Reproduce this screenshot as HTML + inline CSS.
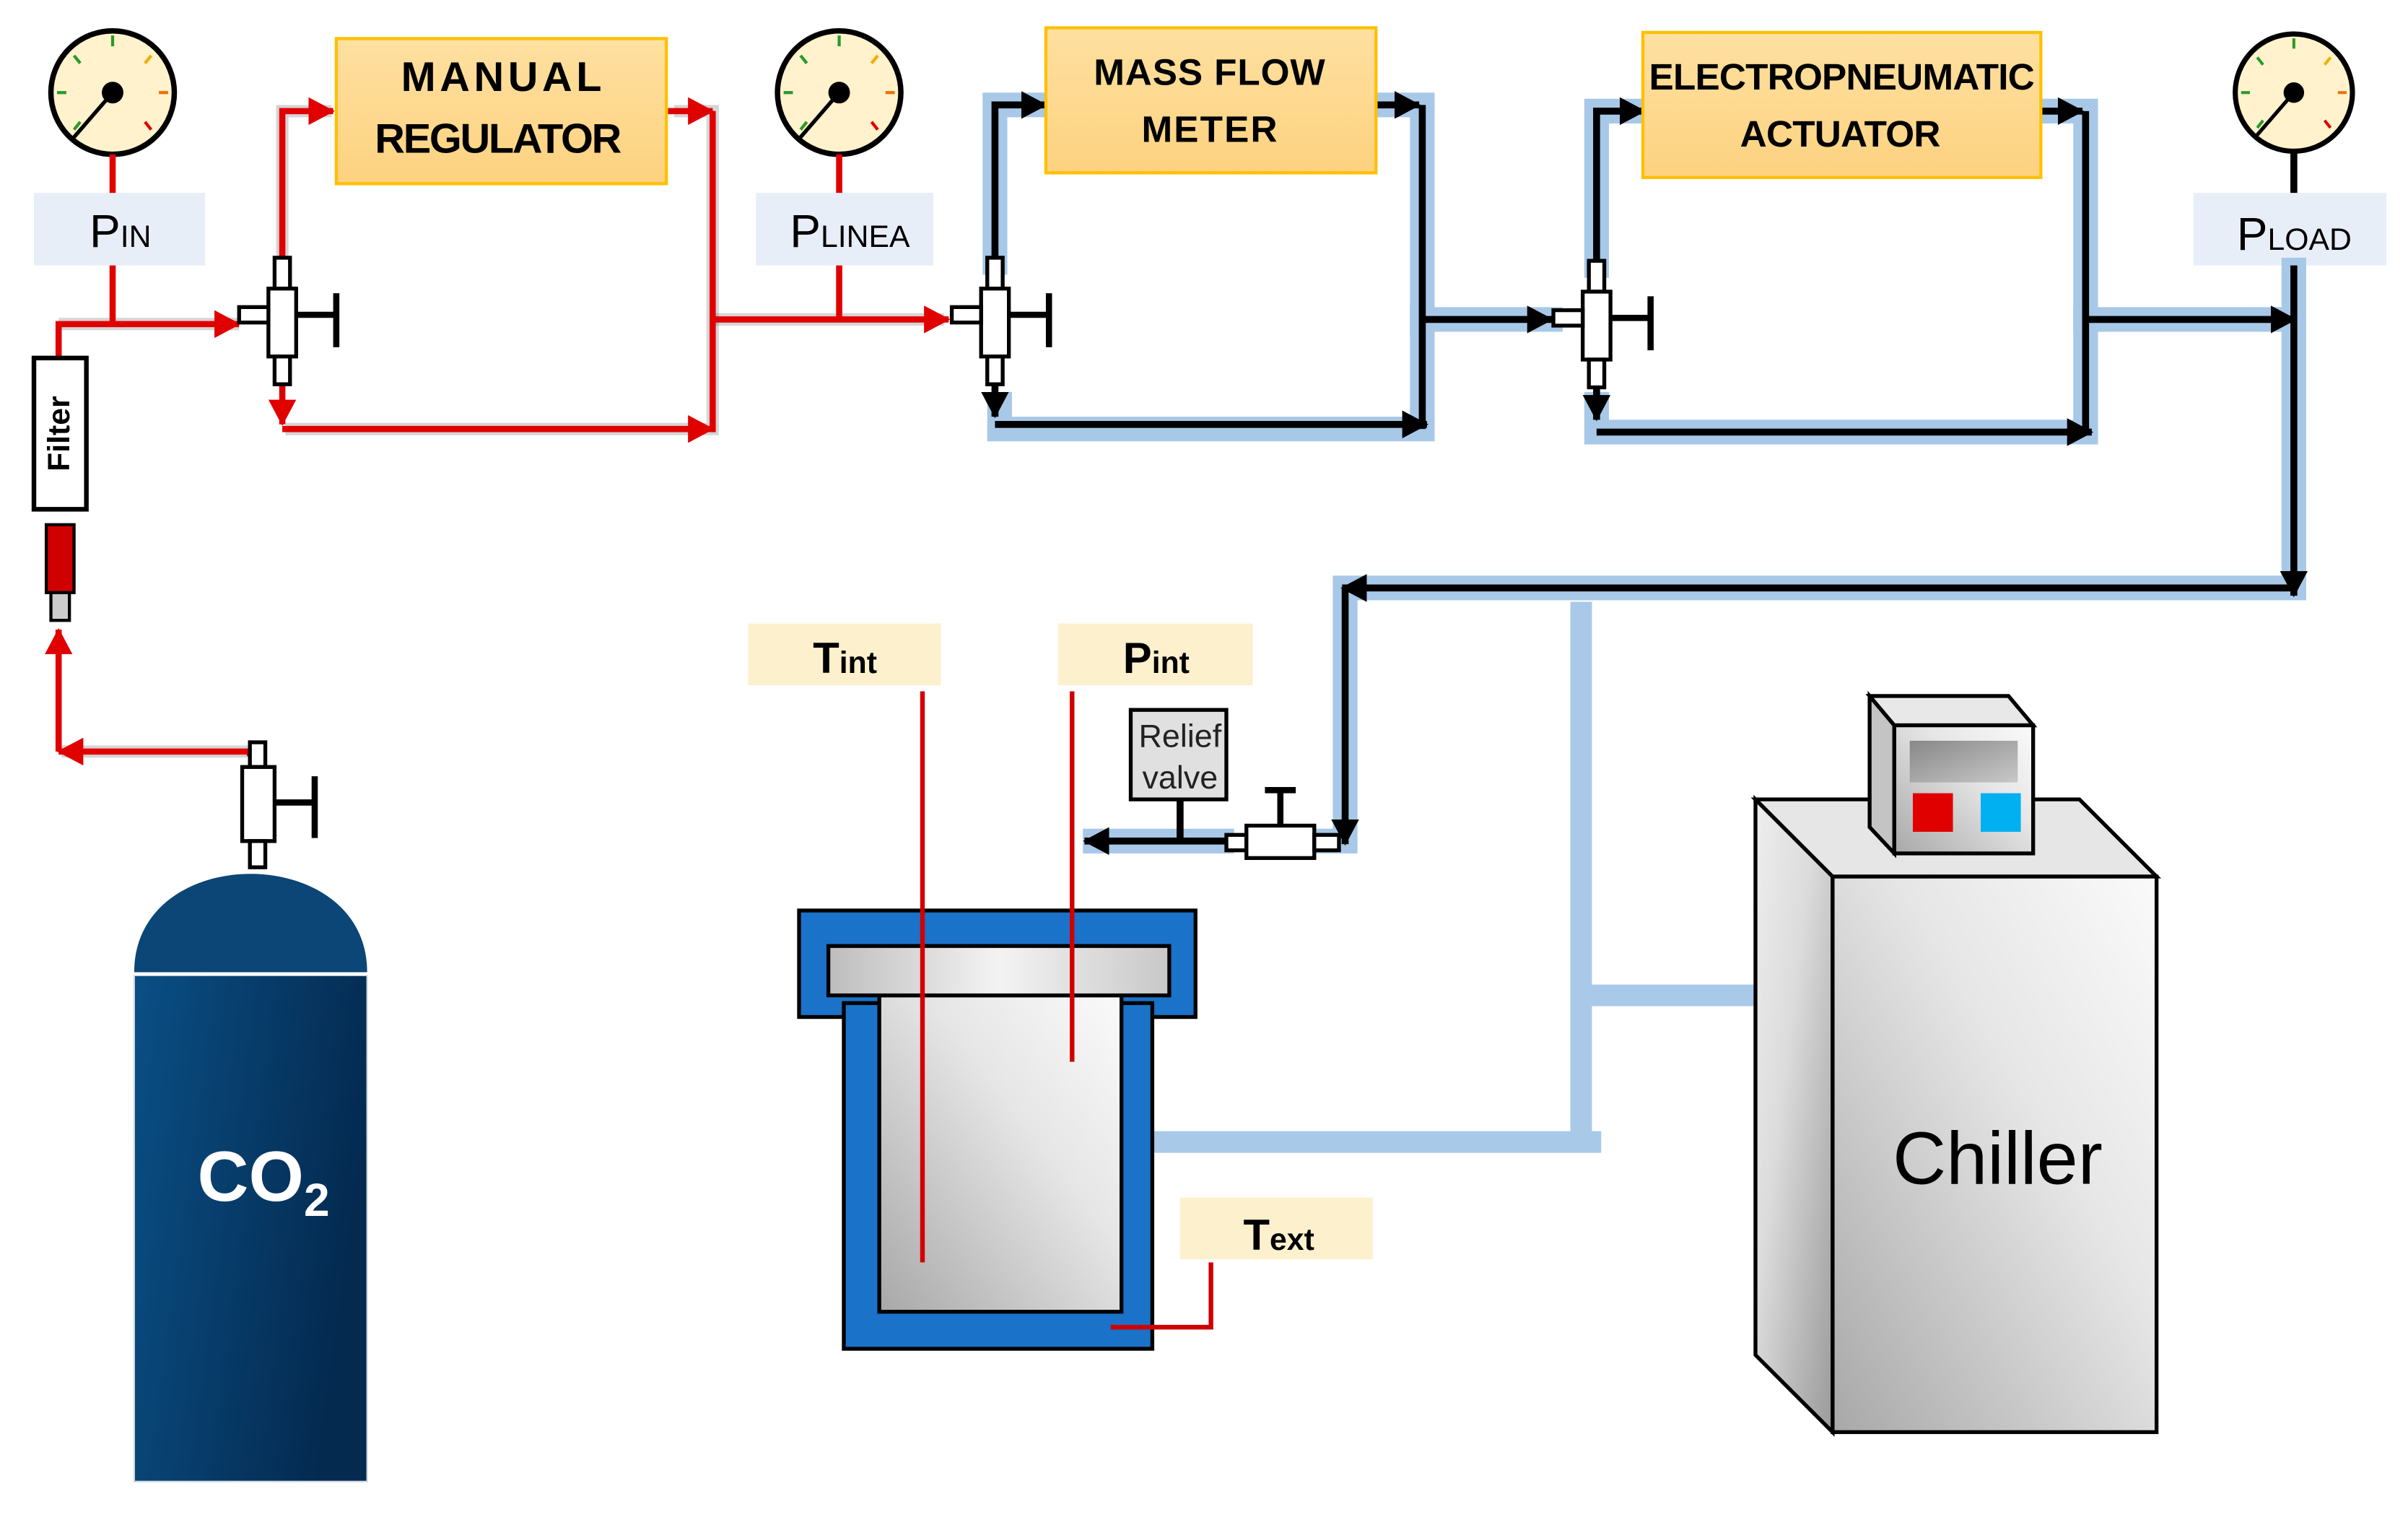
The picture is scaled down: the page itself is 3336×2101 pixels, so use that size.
<!DOCTYPE html>
<html><head><meta charset="utf-8"><style>html,body{margin:0;padding:0;background:#fff}svg{display:block}</style></head>
<body>
<svg width="3336" height="2101" viewBox="0 0 1561 983" preserveAspectRatio="none" xmlns="http://www.w3.org/2000/svg" font-family="Liberation Sans, sans-serif">
<defs>
<marker id="ar" markerUnits="userSpaceOnUse" markerWidth="20" markerHeight="20" refX="16" refY="9" orient="auto"><path d="M0,0 L17,9 L0,18 Z" fill="#e00000"/></marker>
<marker id="ab" markerUnits="userSpaceOnUse" markerWidth="20" markerHeight="20" refX="16" refY="9" orient="auto"><path d="M0,0 L17,9 L0,18 Z" fill="#000"/></marker>
<linearGradient id="box" x1="0" y1="0" x2="0" y2="1"><stop offset="0" stop-color="#fee0a0"/><stop offset="1" stop-color="#fdd280"/></linearGradient>
<linearGradient id="cyl" x1="0" y1="0" x2="1" y2="0.3"><stop offset="0" stop-color="#0a4f85"/><stop offset="1" stop-color="#042a50"/></linearGradient>
<linearGradient id="gry" x1="0" y1="1" x2="1" y2="0"><stop offset="0" stop-color="#a8a8a8"/><stop offset="0.6" stop-color="#e6e6e6"/><stop offset="1" stop-color="#fafafa"/></linearGradient>
<linearGradient id="gry2" x1="1" y1="1" x2="0" y2="0"><stop offset="0" stop-color="#9a9a9a"/><stop offset="0.6" stop-color="#dcdcdc"/><stop offset="1" stop-color="#eeeeee"/></linearGradient>
<linearGradient id="lid" x1="0" y1="0" x2="1" y2="0"><stop offset="0" stop-color="#bdbdbd"/><stop offset="0.5" stop-color="#f3f3f3"/><stop offset="1" stop-color="#c8c8c8"/></linearGradient>
<linearGradient id="disp" x1="0" y1="0" x2="1" y2="1"><stop offset="0" stop-color="#888"/><stop offset="1" stop-color="#c8c8c8"/></linearGradient>
<g id="gauge">
<circle r="40" fill="#fff2cc" stroke="#000" stroke-width="3.5"/>
<line x1="0" y1="-37" x2="0" y2="-30" stroke="#2a9a2a" stroke-width="2"/>
<line x1="-25" y1="-24" x2="-21" y2="-19" stroke="#2a9a2a" stroke-width="2"/>
<line x1="-36" y1="0" x2="-30" y2="0" stroke="#2a9a2a" stroke-width="2"/>
<line x1="-25" y1="24" x2="-21" y2="19" stroke="#2a9a2a" stroke-width="2"/>
<line x1="25" y1="-24" x2="21" y2="-19" stroke="#f0b000" stroke-width="2"/>
<line x1="36" y1="0" x2="30" y2="0" stroke="#f07000" stroke-width="2"/>
<line x1="25" y1="24" x2="21" y2="19" stroke="#e00000" stroke-width="2"/>
<line x1="0" y1="0" x2="-26" y2="30" stroke="#000" stroke-width="2.5"/>
<circle r="7" fill="#000"/>
</g>
<g id="valve" fill="#fff" stroke="#000" stroke-width="2.5">
<rect x="-5" y="-38" width="10" height="20"/>
<rect x="-9" y="-18" width="18" height="44"/>
<rect x="-5" y="26" width="10" height="18"/>
<rect x="-28" y="-6" width="19" height="10"/>
<line x1="9" y1="-1" x2="35" y2="-1" stroke-width="4"/>
<line x1="35" y1="-15" x2="35" y2="20" stroke-width="4"/>
</g>
</defs>

<!-- gauges -->
<use href="#gauge" x="73" y="60"/>
<use href="#gauge" x="544" y="60"/>
<use href="#gauge" transform="translate(1487 60) scale(0.95)"/>

<!-- label boxes -->
<rect x="22" y="125" width="111" height="47" fill="#e8eef8"/>
<text x="58" y="160" font-size="30" fill="#000">P<tspan font-size="20">IN</tspan></text>
<rect x="490" y="125" width="115" height="47" fill="#e8eef8"/>
<text x="512" y="160" font-size="30">P<tspan font-size="20">LINEA</tspan></text>
<rect x="1422" y="125" width="125" height="47" fill="#e8eef8"/>
<text x="1450" y="162" font-size="30">P<tspan font-size="20">LOAD</tspan></text>

<!-- blue glow bands for black lines -->
<g stroke="#a8c8e8" stroke-width="16" fill="none" stroke-linecap="square">
<path d="M645,170 V68 H676"/>
<path d="M897,68 H922 V278 H648 V262"/>
<path d="M922,207 H1005"/>
<path d="M1035,172 V72 H1063"/>
<path d="M1328,72 H1352 V280 H1035 V262"/>
<path d="M1352,207 H1480"/>
<path d="M1487,175 V381 H872 V545 H860"/>
<path d="M710,545 H792"/>
</g>
<!-- light blue coolant pipes -->
<g stroke="#a9c9e9" stroke-width="14" fill="none">
<path d="M1025,390 V740"/>
<path d="M745,740 H1038"/>
<path d="M1032,645 H1138"/>
</g>

<!-- red shadows -->
<g stroke="#888" stroke-opacity="0.35" stroke-width="8" fill="none">
<path d="M38,210 H155"/><path d="M183,170 V72 H215"/><path d="M437,72 H462 V278 H185"/><path d="M462,207 H612"/>
<path d="M40,487 H162"/>
</g>
<!-- red lines -->
<g stroke="#e00000" stroke-width="4" fill="none">
<path d="M73,100 V125"/><path d="M73,172 V210"/>
<path d="M38,232 V210 H155" marker-end="url(#ar)"/>
<path d="M183,168 V72 H216" marker-end="url(#ar)"/>
<path d="M433,72 H462" marker-end="url(#ar)"/>
<path d="M462,72 V280"/>
<path d="M183,249 V275" marker-end="url(#ar)"/>
<path d="M183,278 H462" marker-end="url(#ar)"/>
<path d="M462,207 H615" marker-end="url(#ar)"/>
<path d="M544,100 V125"/><path d="M544,172 V207"/>
<path d="M38,487 V408" marker-end="url(#ar)"/>
<path d="M162,490 V487 H38" marker-end="url(#ar)"/>
</g>

<!-- black lines -->
<g stroke="#000" stroke-width="4.5" fill="none">
<path d="M645,168 V68 H678" marker-end="url(#ab)"/>
<path d="M893,68 H920" marker-end="url(#ab)"/>
<path d="M922,68 V278"/>
<path d="M645,250 V270" marker-end="url(#ab)"/>
<path d="M645,275 H925" marker-end="url(#ab)"/>
<path d="M922,207 H1006" marker-end="url(#ab)"/>
<path d="M1035,170 V72 H1066" marker-end="url(#ab)"/>
<path d="M1324,72 H1350" marker-end="url(#ab)"/>
<path d="M1352,72 V280"/>
<path d="M1035,252 V272" marker-end="url(#ab)"/>
<path d="M1035,280 H1356" marker-end="url(#ab)"/>
<path d="M1352,207 H1488" marker-end="url(#ab)"/>
<path d="M1487,98 V125"/>
<path d="M1487,172 V386" marker-end="url(#ab)"/>
<path d="M1487,381 H870" marker-end="url(#ab)"/>
<path d="M872,381 V547" marker-end="url(#ab)"/>
<path d="M795,545 H703" marker-end="url(#ab)"/>
<path d="M765,518 V545"/>
</g>

<!-- valves -->
<use href="#valve" x="183" y="205"/>
<use href="#valve" x="645" y="205"/>
<use href="#valve" x="1035" y="207"/>
<g fill="#fff" stroke="#000" stroke-width="2.5">
<rect x="162" y="481" width="10" height="16"/>
<rect x="157" y="497" width="21" height="48"/>
<rect x="162" y="545" width="10" height="17"/>
<line x1="178" y1="520" x2="204" y2="520" stroke-width="4"/>
<line x1="204" y1="503" x2="204" y2="543" stroke-width="4"/>
<rect x="795" y="541" width="13" height="10"/>
<rect x="808" y="535" width="44" height="21"/>
<rect x="852" y="541" width="16" height="10"/>
<line x1="830" y1="535" x2="830" y2="512" stroke-width="4"/>
<line x1="820" y1="512" x2="840" y2="512" stroke-width="4"/>
</g>

<!-- filter -->
<rect x="22" y="232" width="34" height="98" fill="#fff" stroke="#000" stroke-width="3"/>
<text transform="translate(45 281) rotate(-90)" font-size="20" font-weight="bold" text-anchor="middle">Filter</text>
<rect x="30" y="340" width="18" height="44" fill="#d00000" stroke="#000" stroke-width="2"/>
<rect x="33" y="384" width="12" height="18" fill="#ccc" stroke="#000" stroke-width="2"/>

<!-- blocks -->
<rect x="218" y="25" width="214" height="94" fill="url(#box)" stroke="#ffc000" stroke-width="2"/>
<text x="325" y="59" font-size="27" text-anchor="middle" font-weight="bold" textLength="130">MANUAL</text>
<text x="323" y="99" font-size="27" text-anchor="middle" font-weight="bold" textLength="160">REGULATOR</text>
<rect x="678" y="18" width="214" height="94" fill="url(#box)" stroke="#ffc000" stroke-width="2"/>
<text x="784" y="55" font-size="24" text-anchor="middle" font-weight="bold" textLength="150">MASS FLOW</text>
<text x="784" y="92" font-size="24" text-anchor="middle" font-weight="bold" textLength="88">METER</text>
<rect x="1065" y="21" width="258" height="94" fill="url(#box)" stroke="#ffc000" stroke-width="2"/>
<text x="1194" y="58" font-size="24" text-anchor="middle" font-weight="bold" textLength="250">ELECTROPNEUMATIC</text>
<text x="1193" y="95" font-size="24" text-anchor="middle" font-weight="bold" textLength="130">ACTUATOR</text>

<!-- relief valve box -->
<rect x="733" y="460" width="62" height="58" fill="#e0e0e0" stroke="#000" stroke-width="2.5"/>
<text x="765" y="484" font-size="21" text-anchor="middle" fill="#222">Relief</text>
<text x="765" y="511" font-size="21" text-anchor="middle" fill="#222">valve</text>

<!-- CO2 cylinder -->
<path d="M87,630 C87,545 238,545 238,630 Z" fill="#0b4677"/>
<rect x="87" y="632" width="151" height="328" fill="url(#cyl)" stroke="#cfd8e0" stroke-width="1"/>
<line x1="87" y1="631" x2="238" y2="631" stroke="#fff" stroke-width="2"/>
<text x="128" y="778" font-size="46" font-weight="bold" fill="#fff">CO<tspan font-size="30" dy="10">2</tspan></text>

<!-- vessel -->
<rect x="518" y="590" width="257" height="69" fill="#1a72c9" stroke="#000" stroke-width="2.5"/>
<rect x="547" y="650" width="200" height="224" fill="#1a72c9" stroke="#000" stroke-width="2.5"/>
<rect x="549" y="655" width="196" height="10" fill="#1a72c9"/>
<rect x="570" y="645" width="157" height="205" fill="url(#gry)" stroke="#000" stroke-width="2.5"/>
<rect x="537" y="613" width="221" height="32" fill="url(#lid)" stroke="#000" stroke-width="2.5"/>

<!-- sensor labels -->
<rect x="485" y="404" width="125" height="40" fill="#fdf0cc"/>
<text x="527" y="436" font-size="28" font-weight="bold">T<tspan font-size="20">int</tspan></text>
<rect x="686" y="404" width="126" height="40" fill="#fdf0cc"/>
<text x="728" y="436" font-size="28" font-weight="bold">P<tspan font-size="20">int</tspan></text>
<rect x="765" y="776" width="125" height="40" fill="#fdf0cc"/>
<text x="806" y="810" font-size="28" font-weight="bold">T<tspan font-size="20">ext</tspan></text>
<g stroke="#d00000" stroke-width="3" fill="none">
<path d="M598,448 V818"/>
<path d="M695,448 V688"/>
<path d="M785,818 V860 H720"/>
</g>

<!-- chiller -->
<path d="M1138,518 L1188,568 L1188,928 L1138,878 Z" fill="url(#gry2)" stroke="#000" stroke-width="2.5"/>
<path d="M1138,518 L1348,518 L1398,568 L1188,568 Z" fill="#e6e6e6" stroke="#000" stroke-width="2.5"/>
<rect x="1188" y="568" width="210" height="360" fill="url(#gry)" stroke="#000" stroke-width="2.5"/>
<text x="1295" y="767" font-size="48" text-anchor="middle" fill="#000">Chiller</text>
<path d="M1212,451 L1228,470 L1228,553 L1212,536 Z" fill="#c4c4c4" stroke="#000" stroke-width="2.5"/>
<path d="M1212,451 L1302,451 L1318,470 L1228,470 Z" fill="#e8e8e8" stroke="#000" stroke-width="2.5"/>
<rect x="1228" y="470" width="90" height="83" fill="url(#gry)" stroke="#000" stroke-width="2.5"/>
<rect x="1238" y="480" width="70" height="27" fill="url(#disp)"/>
<rect x="1240" y="514" width="26" height="25" fill="#e00000"/>
<rect x="1284" y="514" width="26" height="25" fill="#00b0f0"/>
</svg>
</body></html>
